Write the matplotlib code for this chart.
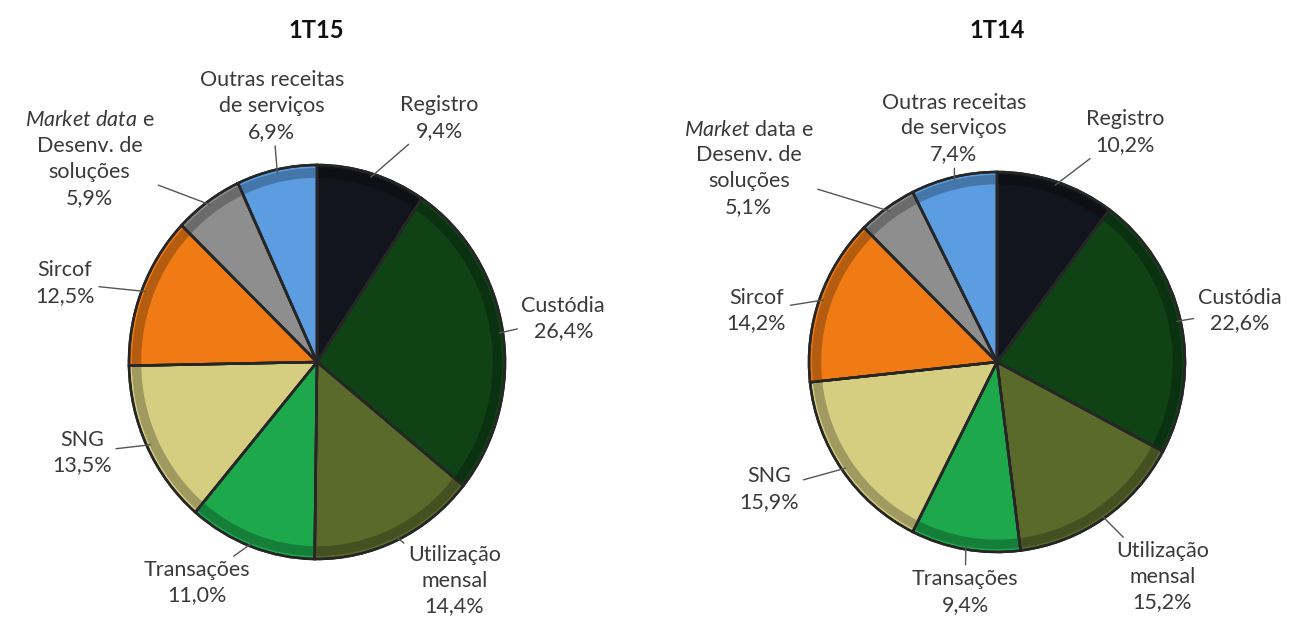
import matplotlib
matplotlib.use("Agg")
import matplotlib.pyplot as plt
import matplotlib.colors as mcolors
from matplotlib.patches import Wedge
import numpy as np

plt.rcParams['font.family'] = ['Lato', 'DejaVu Sans']
plt.rcParams['mathtext.fontset'] = 'custom'
plt.rcParams['mathtext.rm'] = 'Lato'
plt.rcParams['mathtext.it'] = 'Lato:italic'

# ---- data ----
categories_15 = ["Registro", "Custódia", "Utilização\nmensal", "Transações", "SNG", "Sircof",
                 "$\\mathit{Market\\ data}$ e\nDesenv. de\nsoluções", "Outras receitas\nde serviços"]
categories_14 = ["Registro", "Custódia", "Utilização\nmensal", "Transações", "SNG", "Sircof",
                 "$\\mathit{Market}$ data e\nDesenv. de\nsoluções", "Outras receitas\nde serviços"]
values_15 = [9.4, 26.4, 14.4, 11.0, 13.5, 12.5, 5.9, 6.9]
values_14 = [10.2, 22.6, 15.2, 9.4, 15.9, 14.2, 5.1, 7.4]
titles = ["1T15", "1T14"]

colors = ["#13151e", "#0f4215", "#5a6a2b", "#1ca84b", "#d5cd80", "#f07a14", "#8e8e8e", "#5c9de2"]

# label positions (in pie-radius units) - layout only
label_pos_15 = [(0.65, 1.24), (1.31, 0.22), (0.73, -1.11), (-0.64, -1.12),
                (-1.25, -0.46), (-1.34, 0.40), (-1.21, 1.03), (-0.24, 1.30)]
label_pos_14 = [(0.68, 1.21), (1.29, 0.27), (0.88, -1.13), (-0.17, -1.21),
                (-1.21, -0.67), (-1.28, 0.27), (-1.32, 1.02), (-0.23, 1.23)]

W, H = 1303, 623
fig = plt.figure(figsize=(W / 100, H / 100), dpi=100)
SPAN = 1.75

def make_axes(cx, cy, rx, ry):
    left = (cx - SPAN * rx) / W
    bottom = (H - cy - SPAN * ry) / H
    ax = fig.add_axes([left, bottom, 2 * SPAN * rx / W, 2 * SPAN * ry / H])
    return ax

def fmt(v):
    return f"{v:.1f}%".replace(".", ",")

def shade(c, f):
    r, g, b = mcolors.to_rgb(c)
    return (r * f, g * f, b * f)

def draw(ax, vals, cats, lpos):
    wedges, _ = ax.pie(vals, colors=colors, startangle=90, counterclock=False,
                       radius=1.0, center=(0, 0), frame=False,
                       wedgeprops=dict(edgecolor="#262626", linewidth=1.8))
    # subtle darker outer rim for a bevelled look
    for w, col in zip(wedges, colors):
        ax.add_patch(Wedge((0, 0), 0.985, w.theta1, w.theta2, width=0.05,
                           facecolor=shade(col, 0.75), edgecolor='none', zorder=w.get_zorder() + 0.1))
        ax.add_patch(Wedge((0, 0), 1.0, w.theta1, w.theta2, facecolor='none',
                           edgecolor="#262626", linewidth=1.8, zorder=w.get_zorder() + 0.2))
    ax.set_xlim(-SPAN, SPAN)
    ax.set_ylim(-SPAN, SPAN)
    ax.set_aspect('auto')
    ax.axis('off')
    for w, c, v, (lx, ly) in zip(wedges, cats, vals, lpos):
        ang = np.deg2rad((w.theta1 + w.theta2) / 2)
        ex, ey = np.cos(ang), np.sin(ang)
        ax.annotate(c + "\n" + fmt(v), xy=(ex * 0.98, ey * 0.98), xytext=(lx, ly),
                    ha='center', va='center', fontsize=15.5, color="#3a3a3a",
                    linespacing=1.36,
                    arrowprops=dict(arrowstyle='-', color="#555555", lw=1.0,
                                    shrinkA=1, shrinkB=0))

ax1 = make_axes(317, 362, 188, 197)
draw(ax1, values_15, categories_15, label_pos_15)
ax2 = make_axes(997, 362, 188, 190)
draw(ax2, values_14, categories_14, label_pos_14)

fig.text(316 / W, 1 - 30 / H, titles[0], ha='center', va='center', fontsize=17,
         fontweight='bold', color="#111111")
fig.text(997 / W, 1 - 30 / H, titles[1], ha='center', va='center', fontsize=17,
         fontweight='bold', color="#111111")

fig.savefig("out.png", dpi=100)
